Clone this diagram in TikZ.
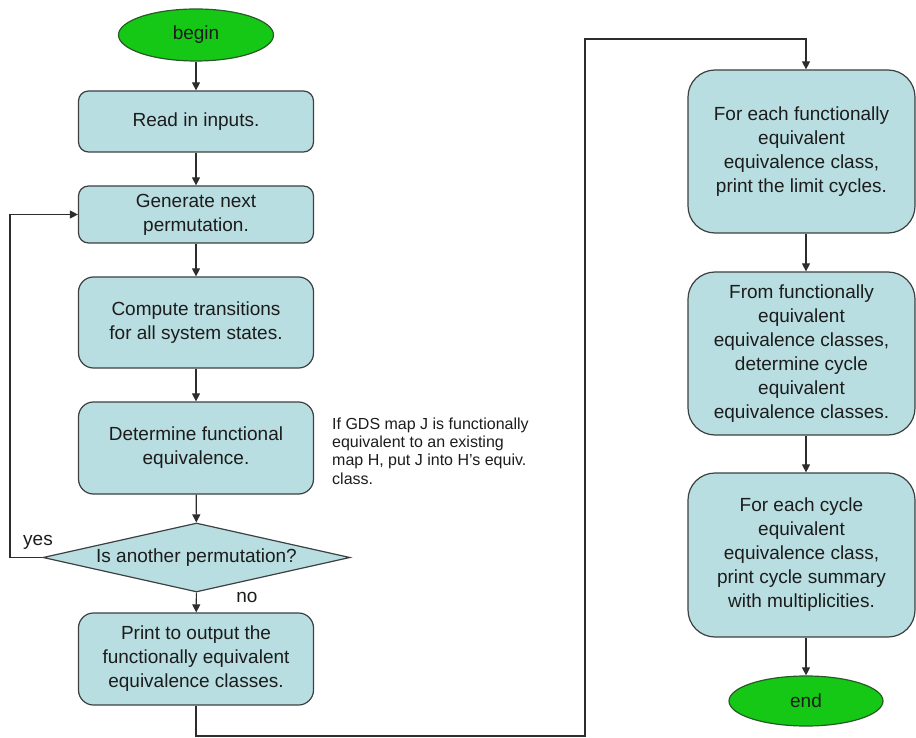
\documentclass[tikz,border=0pt]{standalone}
\usepackage{fontspec}
\setmainfont{Liberation Sans}
\usetikzlibrary{shapes.geometric,arrows.meta}
\definecolor{boxfill}{RGB}{185,222,225}
\definecolor{boxline}{RGB}{60,64,64}
\definecolor{termfill}{RGB}{22,200,22}
\definecolor{termline}{RGB}{40,90,40}
\definecolor{txt}{RGB}{28,28,28}
\definecolor{wire}{RGB}{45,45,45}
\begin{document}
\begin{tikzpicture}[x=1pt,y=-1pt,
  proc/.style={draw=boxline, line width=1.2pt, fill=boxfill, rounded corners=#1,
    align=center, inner sep=0pt, text=txt, font=\fontsize{19}{24}\selectfont},
  proc/.default=15pt,
  leftbox/.style={minimum width=235pt},
  rightbox/.style={minimum width=227pt, minimum height=163pt},
  term/.style={ellipse, draw=termline, line width=1.2pt, fill=termfill, inner sep=0pt,
    minimum width=155pt, minimum height=52pt, text=txt, font=\fontsize{19}{24}\selectfont},
  decision/.style={diamond, draw=boxline, line width=1.2pt, fill=boxfill, inner sep=0pt,
    shape aspect=4.45, minimum width=307pt, minimum height=69pt, text=txt,
    font=\fontsize{19}{24}\selectfont},
  lbl/.style={text=txt, inner sep=0pt, font=\fontsize{19}{24}\selectfont},
  note/.style={text=txt, inner sep=0pt, align=left, anchor=north west,
    font=\fontsize{16}{18.3}\selectfont},
  arr/.style={draw=wire, line width=1.1pt, -{Triangle[length=8pt,width=8pt]}},
  wireln/.style={draw=wire, line width=1.1pt}
]
\useasboundingbox (0,0) rectangle (916,738);

% left column
\node[term] (begin) at (196,35) {begin};
\node[proc=10pt, leftbox, minimum height=61pt] (read) at (196,121.5) {Read in inputs.};
\node[proc=10pt, leftbox, minimum height=57pt] (gen) at (196,214.5) {Generate next\\permutation.};
\node[proc, leftbox, minimum height=91pt] (comp) at (196,322.5) {Compute transitions\\for all system states.};
\node[proc, leftbox, minimum height=92pt] (det) at (196,448) {Determine functional\\equivalence.};
\node[decision] (dec) at (196.5,557.5) {Is another permutation?};
\node[proc, leftbox, minimum height=92pt] (print) at (196,659) {Print to output the\\functionally equivalent\\equivalence classes.};

\node[note] (note) at (332,417.5) {If GDS map J is functionally\\equivalent to an existing\\map H, put J into H's equiv.\\class.};
\node[lbl] (yes) at (38,542) {yes};
\node[lbl] (no) at (247,597) {no};

% right column
\node[proc=27pt, rightbox] (b1) at (801.5,151.5) {For each functionally\\equivalent\\equivalence class,\\print the limit cycles.};
\node[proc=27pt, rightbox] (b2) at (801.5,353.5) {From functionally\\equivalent\\equivalence classes,\\determine cycle\\equivalent\\equivalence classes.};
\node[proc=27pt, rightbox, minimum height=164pt] (b3) at (801.5,555) {For each cycle\\equivalent\\equivalence class,\\print cycle summary\\with multiplicities.};
\node[term, minimum width=154pt, minimum height=50pt] (endn) at (806,701) {end};

\coordinate (ylA) at (10,557.5);
\coordinate (ylB) at (10,214.5);
\coordinate (bt1) at (196,736);
\coordinate (bt2) at (585,736);
\coordinate (bt3) at (585,39);
\coordinate (bt4) at (806,39);

% connectors
\draw[arr] (begin) -- (read);
\draw[arr] (read) -- (gen);
\draw[arr] (gen) -- (comp);
\draw[arr] (comp) -- (det);
\draw[arr] (det) -- (dec);
\draw[arr] (dec) -- (print);
\draw[arr] (dec.west) -- (ylA) -- (ylB) -- (gen.west);
\draw[arr] (print.south) -- (bt1) -- (bt2) -- (bt3) -- (bt4) -- (b1.north -| bt4);
\draw[arr] (b1.south -| endn.north) -- (b2.north -| endn.north);
\draw[arr] (b2.south -| endn.north) -- (b3.north -| endn.north);
\draw[arr] (b3.south -| endn.north) -- (endn.north);
\end{tikzpicture}
\end{document}
